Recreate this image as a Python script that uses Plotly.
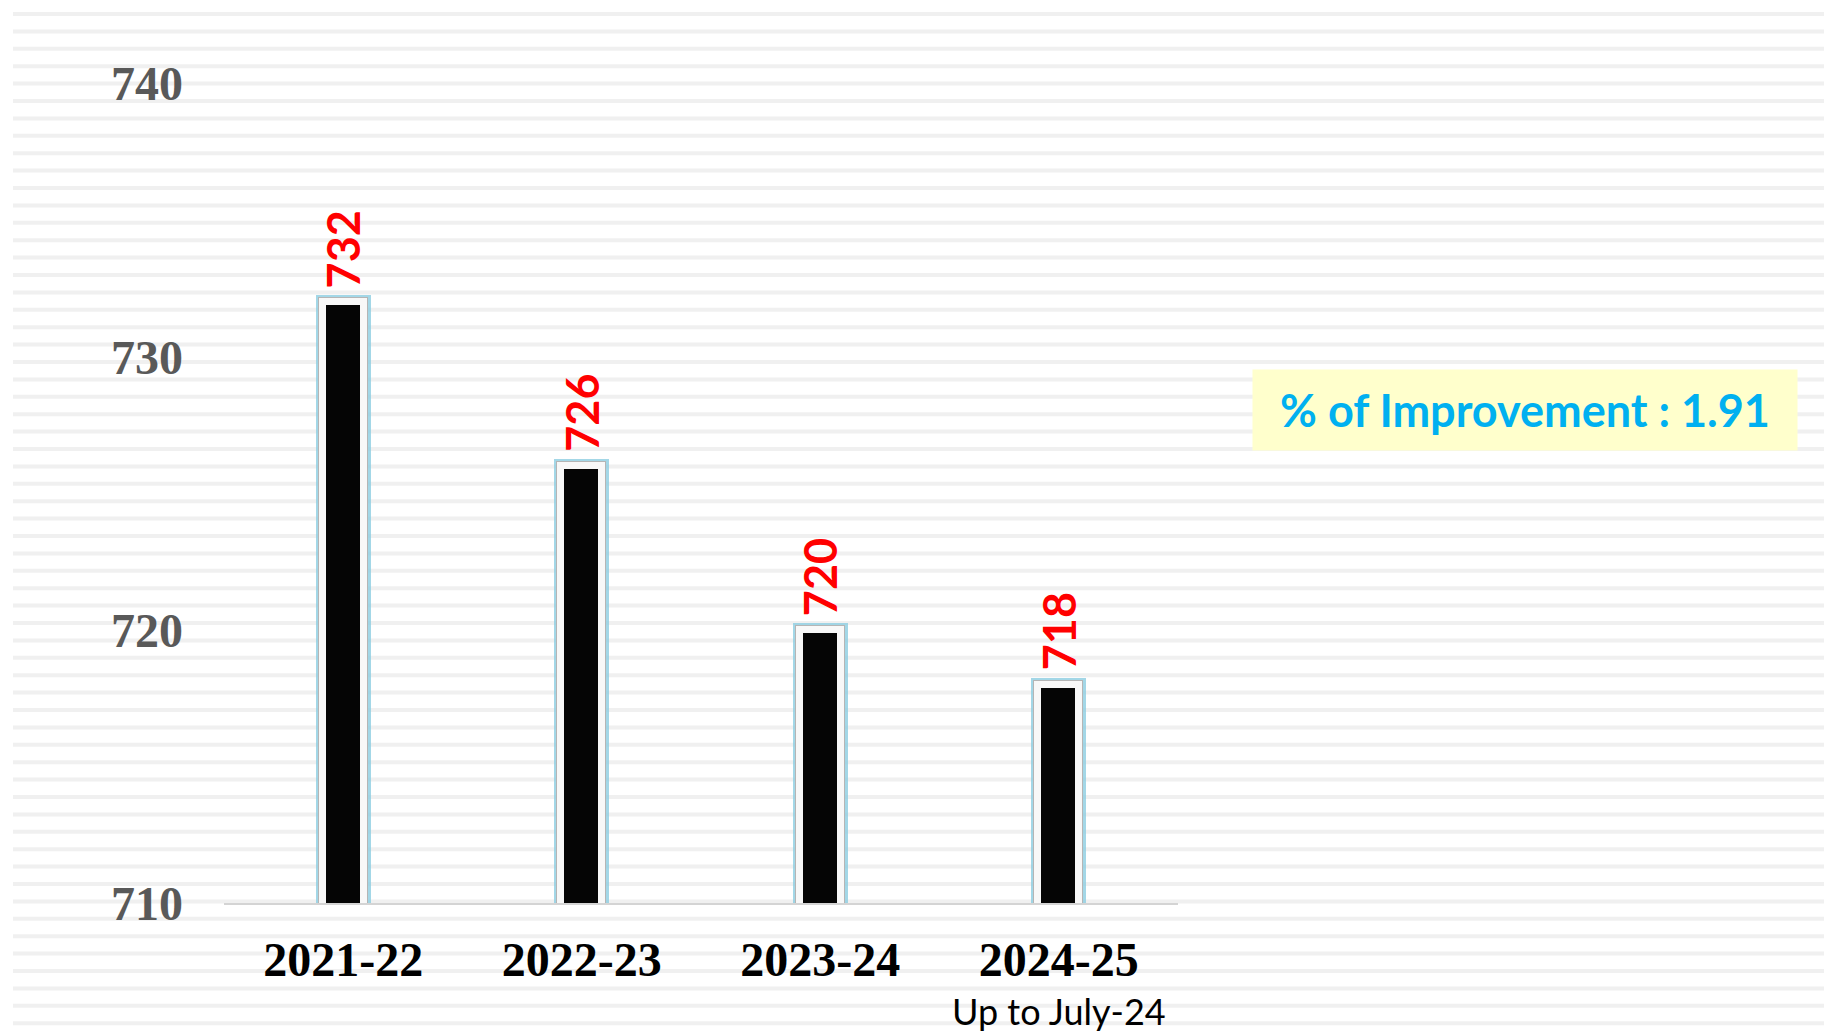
import plotly.graph_objects as go

categories = ["2021-22", "2022-23", "2023-24", "2024-25"]
values = [732, 726, 720, 718]
y_ticks = [710, 720, 730, 740]
y_tick_labels = ["710", "720", "730", "740"]
sub_label = "Up to July-24"
improvement_text = "% of Improvement : 1.91"

W, H = 1824, 1032
L, R, T, B = 224, 646, 29, 129
plot_h = H - T - B
plot_w = W - L - R

fig = go.Figure()

bar_w = 0.17
# glow layer
fig.add_trace(go.Bar(x=categories, y=values, width=bar_w,
                     marker=dict(color="#a9dcea", line=dict(color="rgba(140,205,225,0.8)", width=14)),
                     hoverinfo="skip", showlegend=False))
# gray bevel edge
fig.add_trace(go.Bar(x=categories, y=values, width=bar_w,
                     marker=dict(color="#050505", line=dict(color="#b5b5b5", width=9)),
                     hoverinfo="skip", showlegend=False))
# white frame + black fill
fig.add_trace(go.Bar(x=categories, y=values, width=bar_w,
                     marker=dict(color="#050505", line=dict(color="#f8f8f8", width=7)),
                     showlegend=False))

annotations = []
for c, v in zip(categories, values):
    annotations.append(dict(x=c, y=v, xref="x", yref="y", text=str(v), textangle=-90,
                            showarrow=False, yanchor="bottom", xanchor="center", yshift=12,
                            font=dict(family="Lato", size=45, color="#ff0000", weight="bold")))

annotations.append(dict(x=categories[-1], y=0, xref="x", yref="paper", text=sub_label,
                        showarrow=False, yanchor="top", xanchor="center", yshift=-84,
                        font=dict(family="Lato", size=36, color="#000000")))

annotations.append(dict(x=(1525 - L) / plot_w, y=(T + plot_h - 410) / plot_h, xref="paper", yref="paper",
                        text=improvement_text, showarrow=False, xanchor="center", yanchor="middle",
                        width=540, height=76, bgcolor="#ffffcc", align="center", borderpad=2,
                        font=dict(family="Lato", size=45, color="#00b0f0", weight="bold")))

# background stripes
shapes = []
py = 14.0
while py < H:
    yp = (T + plot_h - py) / plot_h
    shapes.append(dict(type="line", xref="paper", yref="paper",
                       x0=(13 - L) / plot_w, x1=(W - L) / plot_w, y0=yp, y1=yp,
                       line=dict(color="#f0f0f0", width=4), layer="below"))
    py += 17.4

fig.update_layout(
    width=W, height=H,
    margin=dict(l=L, r=R, t=T, b=B, pad=0),
    paper_bgcolor="#ffffff", plot_bgcolor="rgba(0,0,0,0)",
    barmode="overlay", bargap=0,
    shapes=shapes, annotations=annotations,
    xaxis=dict(type="category", range=[-0.5, 3.5], showgrid=False, showline=True,
               linecolor="#d4d4d4", linewidth=2, ticks="", ticklabelstandoff=13,
               tickfont=dict(family="Liberation Serif", size=48, color="#000000", weight="bold")),
    yaxis=dict(range=[710, 742], tickvals=y_ticks, ticktext=y_tick_labels, showgrid=False,
               showline=False, zeroline=False, ticks="", ticklabelstandoff=40,
               tickfont=dict(family="Liberation Serif", size=48, color="#595959", weight="bold")),
)

fig.write_html("out.html")
